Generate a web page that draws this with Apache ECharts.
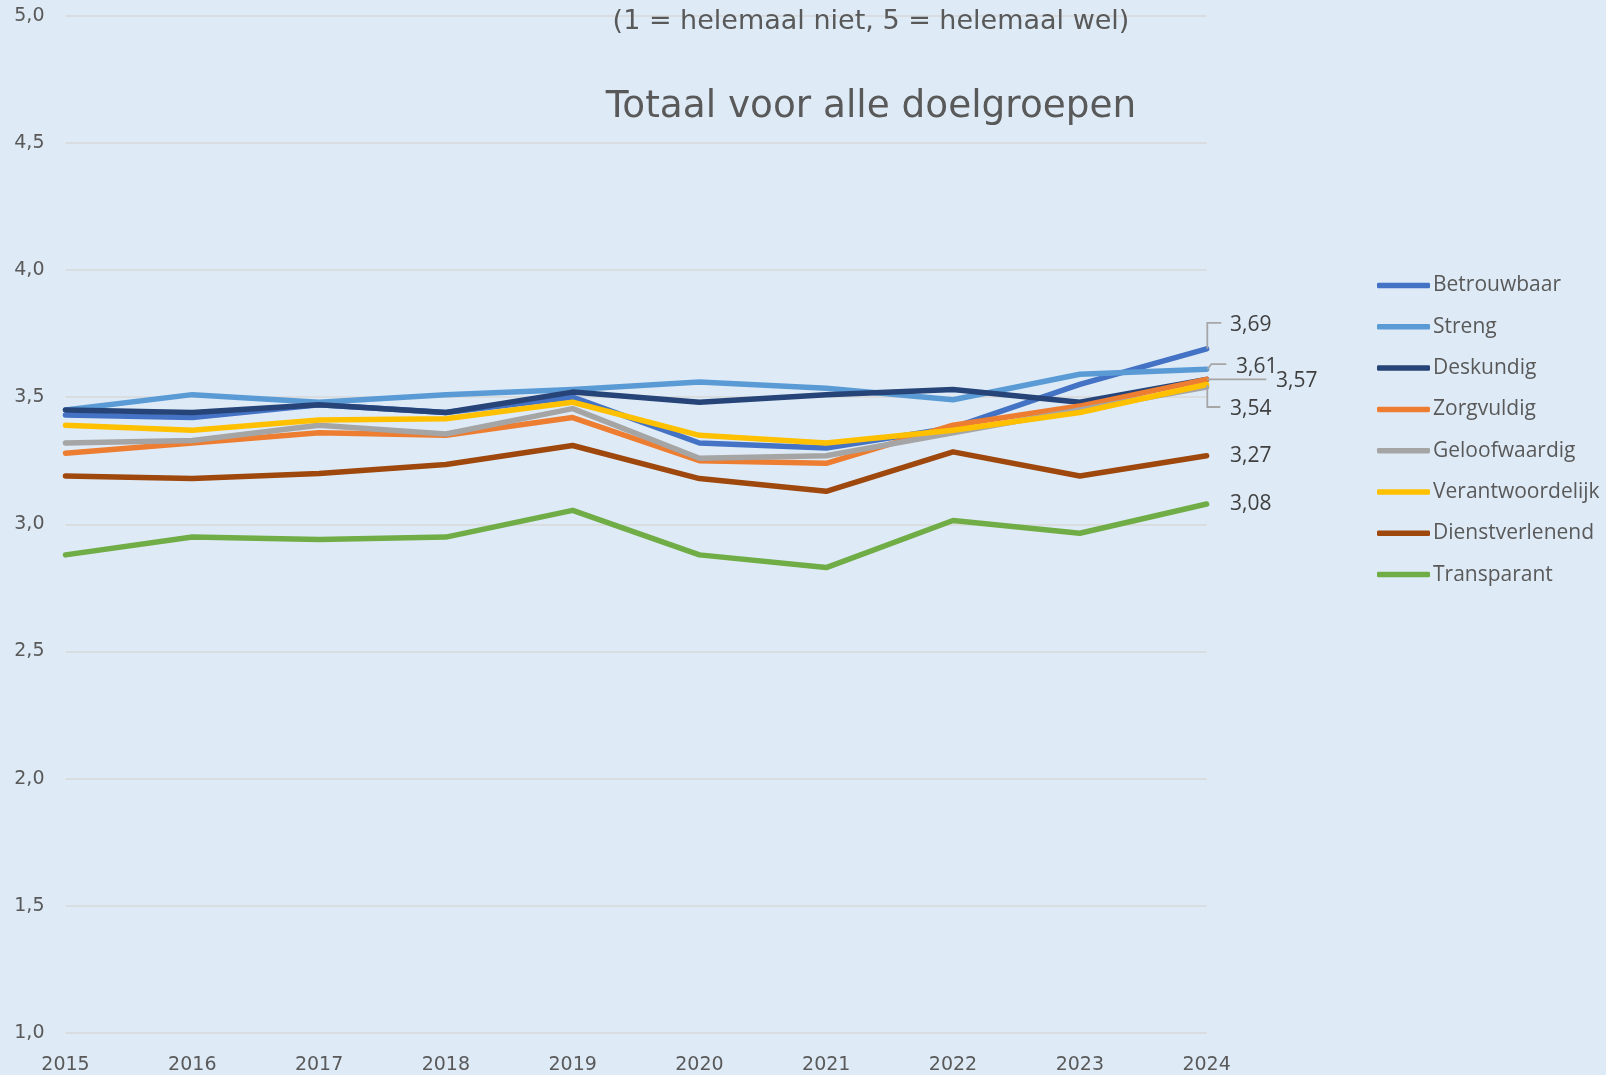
<!DOCTYPE html>
<html>
<head>
<meta charset="utf-8">
<script src="https://cdn.jsdelivr.net/npm/echarts@6/dist/echarts.min.js"></script>
<style>
html,body{margin:0;padding:0;background:#DEEBF7;}
#chart{width:1606px;height:1075px;}
</style>
</head>
<body>
<div id="chart"></div>
<script>
const years = ['2015','2016','2017','2018','2019','2020','2021','2022','2023','2024'];
const yTicks = [1.0, 1.5, 2.0, 2.5, 3.0, 3.5, 4.0, 4.5, 5.0];

const betrouwbaar      = [3.43, 3.42, 3.47, 3.44, 3.50, 3.32, 3.30, 3.38, 3.55, 3.69];
const streng           = [3.45, 3.51, 3.48, 3.51, 3.53, 3.56, 3.535, 3.49, 3.59, 3.61];
const deskundig        = [3.45, 3.44, 3.47, 3.44, 3.52, 3.48, 3.51, 3.53, 3.48, 3.57];
const zorgvuldig       = [3.28, 3.32, 3.36, 3.35, 3.42, 3.25, 3.24, 3.39, 3.465, 3.57];
const geloofwaardig    = [3.32, 3.33, 3.39, 3.355, 3.455, 3.26, 3.27, 3.36, 3.45, 3.54];
const verantwoordelijk = [3.39, 3.37, 3.41, 3.415, 3.48, 3.35, 3.32, 3.37, 3.44, 3.55];
const dienstverlenend  = [3.19, 3.18, 3.20, 3.235, 3.31, 3.18, 3.13, 3.285, 3.19, 3.27];
const transparant      = [2.88, 2.95, 2.94, 2.95, 3.055, 2.88, 2.83, 3.015, 2.965, 3.08];

const seriesNames = ['Betrouwbaar','Streng','Deskundig','Zorgvuldig','Geloofwaardig','Verantwoordelijk','Dienstverlenend','Transparant'];
const seriesData = [betrouwbaar, streng, deskundig, zorgvuldig, geloofwaardig, verantwoordelijk, dienstverlenend, transparant];
const colors = ['#4472C4','#5B9BD5','#264478','#ED7D31','#A5A5A5','#FFC000','#9E480E','#70AD47'];
const subtitle = '(1 = helemaal niet, 5 = helemaal wel)';
const title = 'Totaal voor alle doelgroepen';

// end label placement (null = no label); guide = elbow offsets relative to the end point
const endLabels = [
  {dx: 0, dy: -24, guide: [[0, 0], [0, -26], [14, -26]]},
  {dx: 6, dy: -2, guide: [[0, 0], [4, -5], [19, -5]]},
  null,
  {dx: 46, dy: 2, guide: [[0, 0], [59, 0]]},
  {dx: 0, dy: 22, guide: [[0, -2], [0, 20], [13, 20]]},
  null,
  {dx: 0, dy: 0, guide: null},
  {dx: 0, dy: 0, guide: null}
];

const fmt = v => v.toFixed(2).replace('.', ',');

const series = seriesNames.map((name, i) => {
  const vals = seriesData[i];
  const lab = endLabels[i];
  const data = vals.map((v, j) => {
    if (j === vals.length - 1 && lab) {
      return {value: v, symbol: 'circle', symbolSize: 1, label: {show: true}};
    }
    return v;
  });
  const s = {
    name: name,
    type: 'line',
    data: data,
    symbol: 'none',
    showSymbol: true,
    showAllSymbol: true,
    color: colors[i],
    lineStyle: {width: 5.5, color: colors[i], cap: 'round', join: 'round'},
    itemStyle: {color: colors[i]},
    emphasis: {disabled: true},
    silent: true,
    animation: false,
    label: {
      show: false,
      position: 'right',
      distance: 23,
      fontFamily: 'Open Sans',
      fontSize: 21,
      color: '#404040',
      formatter: p => fmt(p.value)
    }
  };
  if (lab) {
    s.labelLayout = {dx: lab.dx, dy: lab.dy};
  }
  return s;
});

const chart = echarts.init(document.getElementById('chart'), null, {renderer: 'canvas'});
chart.setOption({
  backgroundColor: '#DEEBF7',
  animation: false,
  grid: {left: 65.5, right: 399.4, top: 15.7, bottom: 42, containLabel: false},
  xAxis: {
    type: 'category',
    data: years,
    boundaryGap: false,
    axisLine: {show: false},
    axisTick: {show: false},
    axisLabel: {margin: 23, fontFamily: 'DejaVu Sans', fontSize: 19, color: '#595959'}
  },
  yAxis: {
    type: 'value',
    min: yTicks[0],
    max: yTicks[yTicks.length - 1],
    interval: 0.5,
    axisLine: {show: false},
    axisTick: {show: false},
    axisLabel: {margin: 21, fontFamily: 'DejaVu Sans', fontSize: 19, color: '#595959',
      formatter: v => v.toFixed(1).replace('.', ',')},
    splitLine: {lineStyle: {color: '#D9D9D9', width: 1.5}}
  },
  legend: {
    orient: 'vertical',
    left: 1372,
    top: 270,
    itemWidth: 53,
    itemHeight: 5.5,
    itemGap: 20.3,
    icon: 'roundRect',
    textStyle: {fontFamily: 'Open Sans', fontSize: 21, color: '#595959', lineHeight: 21, padding: [0, 0, 0, -2]},
    data: seriesNames
  },
  graphic: [
    {type: 'text', x: 871, y: 21.5, silent: true,
      style: {text: subtitle, fill: '#595959', font: '27px "DejaVu Sans"', textAlign: 'center', textVerticalAlign: 'middle'}},
    {type: 'text', x: 871, y: 107, silent: true,
      style: {text: title, fill: '#595959', font: '37.4px "DejaVu Sans"', textAlign: 'center', textVerticalAlign: 'middle'}}
  ],
  series: series
});

// leader lines anchored at end points via the library's scales
const guides = [];
endLabels.forEach((lab, i) => {
  if (!lab || !lab.guide) return;
  const vals = seriesData[i];
  const p = chart.convertToPixel({gridIndex: 0}, [years.length - 1, vals[vals.length - 1]]);
  guides.push({
    type: 'polyline', silent: true, z: 10,
    shape: {points: lab.guide.map(o => [p[0] + 0.7 + o[0], p[1] + o[1]])},
    style: {stroke: '#A6A6A6', lineWidth: 1.8, fill: null}
  });
});
chart.setOption({graphic: guides.length ? [
  {type: 'text', x: 871, y: 21.5, silent: true,
    style: {text: subtitle, fill: '#595959', font: '27px "DejaVu Sans"', textAlign: 'center', textVerticalAlign: 'middle'}},
  {type: 'text', x: 871, y: 107, silent: true,
    style: {text: title, fill: '#595959', font: '37.4px "DejaVu Sans"', textAlign: 'center', textVerticalAlign: 'middle'}}
].concat(guides) : []}, {replaceMerge: ['graphic']});
</script>
</body>
</html>
